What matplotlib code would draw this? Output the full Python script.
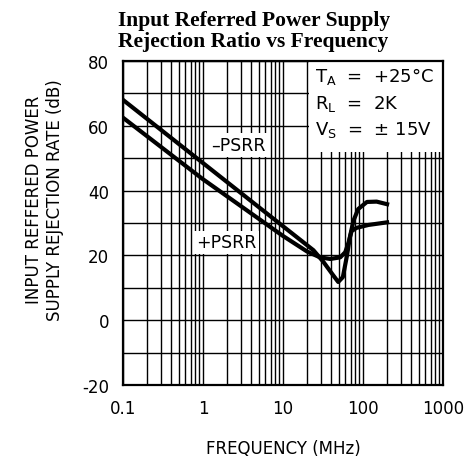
import matplotlib
matplotlib.use('Agg')
import matplotlib.pyplot as plt
from matplotlib.patches import Rectangle
from matplotlib.ticker import FixedLocator, NullFormatter

plt.rcParams['axes.unicode_minus'] = False

# -PSRR curve (dips near 50 MHz)
freq_minus = [0.1, 1, 10, 24, 32, 42, 49, 56, 63, 69, 76, 87, 112, 148, 200]
psrr_minus = [68.0, 48.5, 29.0, 21.6, 18.0, 14.0, 11.8, 13.3, 19.9, 26.0, 30.7, 34.3, 36.5, 36.6, 35.8]

# +PSRR curve (flattens near 40 MHz)
freq_plus = [0.1, 1, 10, 20, 29, 39, 52, 60, 66, 72, 83, 117, 200]
psrr_plus = [62.5, 43.5, 26.0, 21.2, 19.4, 18.9, 19.4, 21.0, 24.0, 27.5, 28.5, 29.4, 30.2]

xticks = [0.1, 1, 10, 100, 1000]
xtick_labels = ['0.1', '1', '10', '100', '1000']
yticks = [-20, 0, 20, 40, 60, 80]

fig = plt.figure(figsize=(4.69, 4.60), dpi=100)
ax = fig.add_axes([123/469, 1 - 386/460, 320/469, 324/460])

ax.set_xscale('log')
ax.set_xlim(0.1, 1000)
ax.set_ylim(-20, 80)

# grid: every 1..9 of each decade, every 10 dB
minors = [m * 10.0**e for e in range(-1, 3) for m in range(2, 10)]
ax.xaxis.set_major_locator(FixedLocator(xticks))
ax.xaxis.set_minor_locator(FixedLocator(minors))
ax.xaxis.set_minor_formatter(NullFormatter())
ax.set_xticklabels(xtick_labels)
ax.set_yticks(yticks)
ax.set_yticks(range(-20, 81, 10), minor=True)
ax.set_axisbelow(True)
ax.grid(True, which='both', color='black', linewidth=1.0)
ax.tick_params(which='both', length=0, labelsize=12)
ax.tick_params(axis='x', pad=10)
ax.tick_params(axis='y', pad=10)
for s in ax.spines.values():
    s.set_linewidth(1.6)

# white panel behind the test conditions
ax.add_patch(Rectangle((21, 52), 1000 - 21, 28, facecolor='white',
                       edgecolor='none', zorder=1))

ax.plot(freq_minus, psrr_minus, color='black', linewidth=3.0,
        solid_joinstyle='round', zorder=3)
ax.plot(freq_plus, psrr_plus, color='black', linewidth=3.0,
        solid_joinstyle='round', zorder=3)

box = dict(facecolor='white', edgecolor='none', pad=2)
ax.text(2.8, 54, '\u2013PSRR', fontsize=12.5, ha='center', va='center',
        bbox=box, zorder=4)
ax.text(1.95, 24, '+PSRR', fontsize=12.5, ha='center', va='center',
        bbox=box, zorder=4)

ax.text(25, 75.5, r'T$_\mathregular{A}$  =  +25°C', fontsize=13, va='center', zorder=4)
ax.text(25, 67, r'R$_\mathregular{L}$  =  2K', fontsize=13, va='center', zorder=4)
ax.text(25, 59, r'V$_\mathregular{S}$  =  ± 15V', fontsize=13, va='center', zorder=4)

ax.set_xlabel('FREQUENCY (MHz)', fontsize=12, labelpad=16)
ax.set_ylabel('INPUT REFFERED POWER\nSUPPLY REJECTION RATE (dB)', fontsize=12)
ax.yaxis.set_label_coords(-0.185, 0.574)

fig.text(118/469, 1 - 11/460, 'Input Referred Power Supply\nRejection Ratio vs Frequency',
         ha='left', va='top', fontsize=15.5, fontweight='bold',
         family='Liberation Serif', linespacing=1.05)

fig.savefig('out.png', dpi=100)
